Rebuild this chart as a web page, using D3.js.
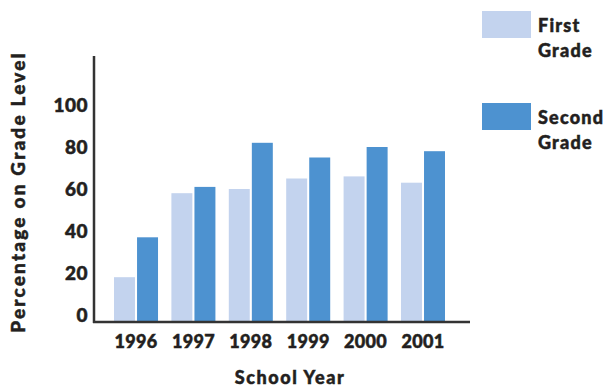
<!DOCTYPE html>
<html>
<head>
<meta charset="utf-8">
<script src="https://cdn.jsdelivr.net/npm/d3@7"></script>
<style>
  body { margin: 0; background: #fff; }
  text { font-family: Lato, "DejaVu Sans", sans-serif; font-weight: 900; fill: #231f20; stroke: #231f20; stroke-width: 0.5px; }
</style>
</head>
<body>
<div id="chart"></div>
<script>
// chart data
var years = ["1996", "1997", "1998", "1999", "2000", "2001"];
var seriesNames = ["First Grade", "Second Grade"];
var firstGrade = [18, 58, 60, 65, 66, 63];
var secondGrade = [37, 61, 82, 75, 80, 78];
var yTicks = [0, 20, 40, 60, 80, 100];

var colors = ["#c3d3ee", "#4d92d0"];

var svgWidth = 610;
var svgHeight = 389;

var svg = d3.select("#chart")
  .append("svg")
    .attr("width", svgWidth)
    .attr("height", svgHeight);

var axisLeftX = 94;
var baseline = 322;
var axisTop = 56;
var axisRight = 470;

var x0 = d3.scaleBand()
  .domain(years)
  .range([114, 445])
  .paddingInner(0.233)
  .paddingOuter(0);

var x1 = d3.scaleBand()
  .domain(seriesNames)
  .range([0, x0.bandwidth()])
  .paddingInner(0.09);

var y = d3.scaleLinear()
  .domain([0, 100])
  .range([315, 105]);

var rows = years.map(function(yr, i) {
  return { year: yr, values: [firstGrade[i], secondGrade[i]] };
});

// bars
var groups = svg.selectAll("g.year")
  .data(rows)
  .enter().append("g")
    .attr("class", "year")
    .attr("transform", d => `translate(${x0(d.year)},0)`);

groups.selectAll("rect")
  .data(d => d.values.map((v, j) => ({ name: seriesNames[j], value: v, idx: j })))
  .enter().append("rect")
    .attr("x", d => x1(d.name))
    .attr("width", x1.bandwidth())
    .attr("y", d => y(d.value))
    .attr("height", d => baseline - y(d.value))
    .attr("fill", d => colors[d.idx]);

// axis lines
svg.append("line")
  .attr("x1", axisLeftX).attr("x2", axisLeftX)
  .attr("y1", axisTop).attr("y2", baseline + 1)
  .attr("stroke", "#333").attr("stroke-width", 2.5);
svg.append("line")
  .attr("x1", axisLeftX - 1).attr("x2", axisRight)
  .attr("y1", baseline).attr("y2", baseline)
  .attr("stroke", "#333").attr("stroke-width", 2.5);

// y tick labels
var yAxis = svg.append("g")
  .attr("transform", `translate(${axisLeftX - 6},0)`)
  .call(d3.axisLeft(y).tickValues(yTicks).tickSize(0).tickPadding(0));
yAxis.select(".domain").remove();
yAxis.selectAll("text")
  .attr("font-size", 19)
  .style("font-family", "Lato, sans-serif")
  .style("font-weight", 900)
  .style("letter-spacing", "0.5px")
  .attr("fill", "#231f20");

// x tick labels
var xAxis = svg.append("g")
  .attr("transform", `translate(0,${baseline})`)
  .call(d3.axisBottom(x0).tickSize(0).tickPadding(13));
xAxis.select(".domain").remove();
xAxis.selectAll("text")
  .attr("font-size", 18)
  .style("font-family", "Lato, sans-serif")
  .style("font-weight", 900)
  .style("letter-spacing", "0.3px")
  .attr("fill", "#231f20");

// axis titles
svg.append("text")
  .attr("transform", "translate(25,192) rotate(-90)")
  .attr("text-anchor", "middle")
  .attr("font-size", 19)
  .style("letter-spacing", "2.2px")
  .text("Percentage on Grade Level");

svg.append("text")
  .attr("x", 290)
  .attr("y", 384)
  .attr("text-anchor", "middle")
  .attr("font-size", 18)
  .style("letter-spacing", "1.6px")
  .text("School Year");

// legend
var legend = svg.selectAll("g.legend")
  .data(seriesNames)
  .enter().append("g")
    .attr("class", "legend")
    .attr("transform", (d, i) => `translate(482,${11 + i * 92})`);

legend.append("rect")
  .attr("width", 49)
  .attr("height", 27)
  .attr("fill", (d, i) => colors[i]);

legend.append("text")
  .attr("x", 56)
  .attr("font-size", 18)
  .style("letter-spacing", "1.2px")
  .selectAll("tspan")
  .data(d => d.split(" "))
  .enter().append("tspan")
    .attr("x", 56)
    .attr("y", (d, i) => 21 + i * 25)
    .text(d => d);
</script>
</body>
</html>
